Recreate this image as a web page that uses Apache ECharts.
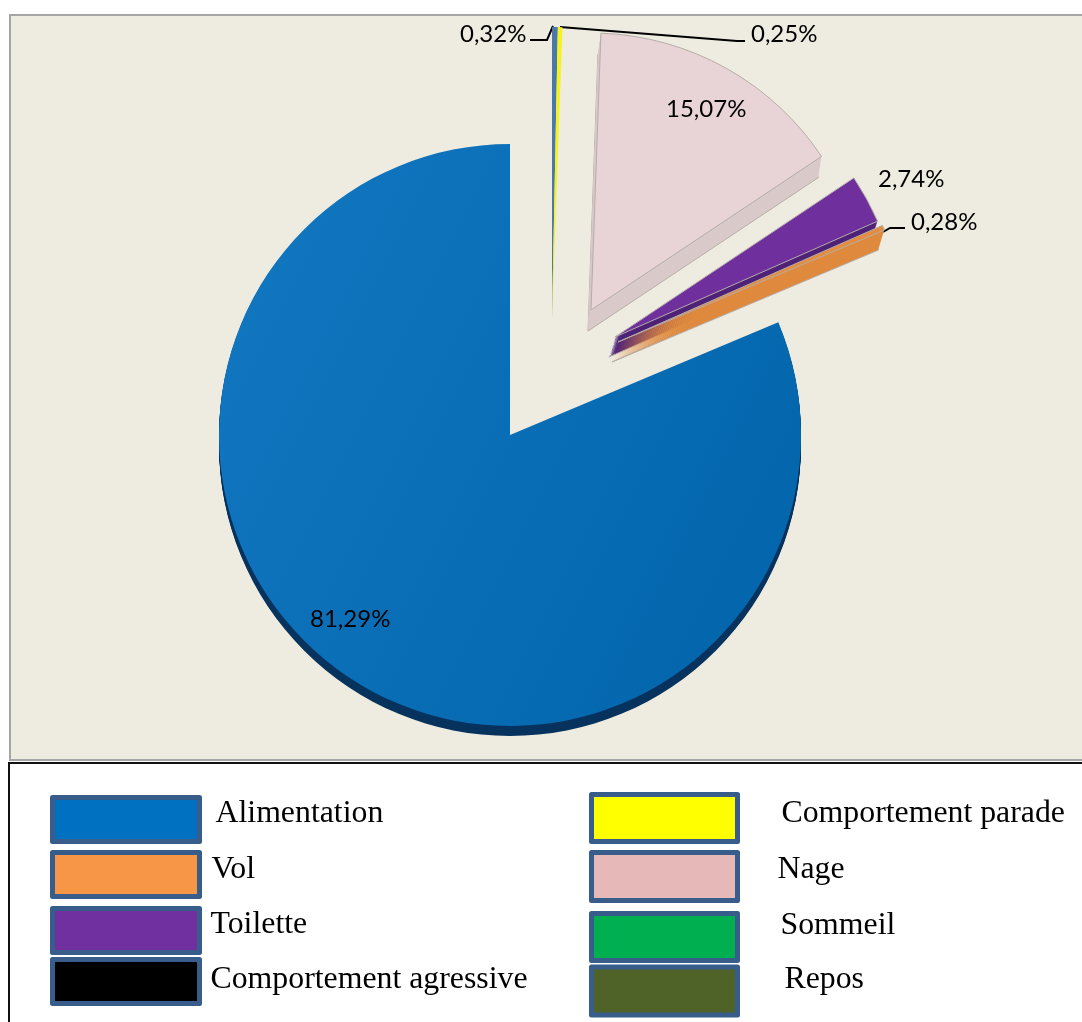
<!DOCTYPE html>
<html><head><meta charset="utf-8">
<style>html,body{margin:0;padding:0;background:#fff}#c{width:1082px;height:1022px}</style>
<script src="https://cdn.jsdelivr.net/npm/echarts@6/dist/echarts.min.js"></script>
</head><body><div id="c"></div>
<script>
// Data, in drawing order (counter-clockwise from 12 o'clock)
const categories = ['Alimentation','Vol','Toilette','Nage','Comportement parade','Repos','Comportement agressive','Sommeil'];
const values = [81.29,0.28,2.74,15.07,0.25,0.32,0,0];
// Style and layout tables
const sliceColors = [null,'#E48D3E','#6F2F9C','#E8D4D6','#F6F21E','#4A78A8','#000000','#00B050'];
const wallColors  = ['#07335E','#DF8A3E','#4F2378','#D9C9C9',null,null,null,null];
const legendColors = {Alimentation:'#0070C0',Vol:'#F79646',Toilette:'#7030A0','Comportement agressive':'#000000',
  'Comportement parade':'#FFFF00',Nage:'#E6B8B7',Sommeil:'#00B050',Repos:'#4F6228'};
const centers = [[510,435],[618,342],[615,337],[591,310],[552,318],[552,318]];
const radii = [291,289,287,277,291,291];
const wallShift = [[0,10],[-6,20],[-6,20],[-3,21],null,null];
const labelAt = [[310,619],[911,222],[878,179],[666,109],[751,34],[460,34]];
const leaderPoints = {1:[[883,232],[890,228],[905,228]],4:[[560,27],[737,41],[745,41]],5:[[553,26],[547,40],[530,40]]};
// name, left, top, swatch width, swatch height, text gap, text lift
const legendItems = [
 ['Alimentation',50,795,147,44,11,12],['Vol',50,850,147,44,7,10],['Toilette',50,906,147,44,6,12],['Comportement agressive',50,957,147,44,6,4],
 ['Comportement parade',589,792,146,47,39,8],['Nage',589,850,146,48,35,14],['Sommeil',589,910,146,47,38,22],['Repos',589,964,146,48,42,22]];
const blueGrad = {type:'linear',x:0,y:0,x2:1,y2:0.5,colorStops:[{offset:0,color:'#1278C1'},{offset:1,color:'#0467AE'}]};
const fmt = v => v.toFixed(2).replace('.',',') + '%';

function pieSeries(i, center, color, isWall, edge){
  const plain = i===0||i>=4;
  return {
    type:'pie', clockwise:false, startAngle:90, center:center, radius:[0,radii[i]],
    avoidLabelOverlap:false, silent:true, animation:false, stillShowZeroSum:false,
    label:{show:false}, labelLine:{show:false},
    labelLayout: isWall ? undefined : () => {
      const o = {x:labelAt[i][0],y:labelAt[i][1],align:'left',verticalAlign:'middle'};
      if(leaderPoints[i]) o.labelLinePoints = leaderPoints[i];
      return o;
    },
    data: categories.map((name,k)=>{
      const on = k===i;
      return {
        name: isWall ? '' : name, value: values[k],
        itemStyle: on ? {color:color, opacity:1,
            borderColor: (plain||!edge) ? color : '#B4ADA8', borderWidth: (plain||!edge) ? 0 : 1}
          : {color:'#000',opacity:0,borderWidth:0},
        label: (on && !isWall) ? {show:true,position:'outside',formatter:fmt(values[k]),
            fontFamily:'Lato',fontSize:24,color:'#000',distanceToLabelLine:2} : {show:false},
        labelLine: (on && !isWall && leaderPoints[i]) ?
            {show:true,length:8,length2:14,lineStyle:{color:'#000',width:2}} : {show:false}
      };
    })
  };
}

// Each slice: an extruded wall made of stacked copies, then its top face. Back to front.
const series = [];
[3,2,1,0,5,4].forEach(i=>{
  const s = wallShift[i];
  if(s){
    const steps = Math.abs(s[1]);
    for(let t=steps;t>=1;t--){
      series.push(pieSeries(i,[centers[i][0]+s[0]*t/steps,centers[i][1]+s[1]*t/steps],wallColors[i],true,t===steps));
    }
  }
  series.push(pieSeries(i,centers[i], i===0?blueGrad:sliceColors[i], false, true));
});

const legends = legendItems.map(([name,x,y,w,h,gap,lift])=>({
  left:x, top:y, padding:0, orient:'horizontal', selectedMode:false,
  itemWidth:w, itemHeight:h,
  data:[{name:name,icon:'rect',itemStyle:{color:legendColors[name],borderColor:'#385D8A',borderWidth:5,opacity:1}}],
  formatter:n=>'{t|'+n+'}',
  textStyle:{rich:{t:{fontFamily:'Liberation Serif',fontSize:31.8,color:'#000',padding:[0,0,lift,gap]}}}
}));

const chart = echarts.init(document.getElementById('c'),null,{renderer:'canvas'});
chart.setOption({
  backgroundColor:'#fff', animation:false, tooltip:{show:false},
  legend:legends, series:series,
  graphic:[
    {type:'rect',z:-1,shape:{x:10,y:15,width:1080,height:745},style:{fill:'#EEEBE0',stroke:'#A6A6A6',lineWidth:2}},
    {type:'rect',z:-1,shape:{x:9,y:763,width:1080,height:270},style:{fill:'#fff',stroke:'#111',lineWidth:2}}
  ]
});
</script></body></html>
